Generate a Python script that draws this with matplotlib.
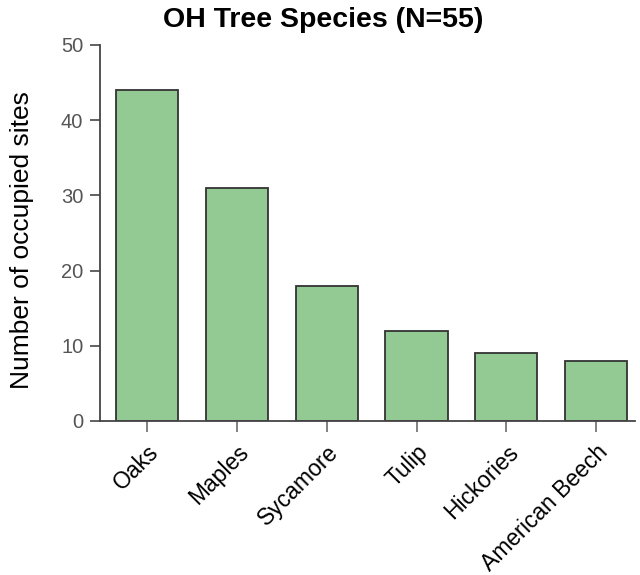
import matplotlib
matplotlib.use("Agg")
import matplotlib.pyplot as plt
import numpy as np

categories = ["Oaks", "Maples", "Sycamore", "Tulip", "Hickories", "American Beech"]
values = [44, 31, 18, 12, 9, 8]
yticks = [0, 10, 20, 30, 40, 50]

plt.rcParams['font.family'] = ['Liberation Sans', 'DejaVu Sans']

fig = plt.figure(figsize=(6.4, 5.75), dpi=100)
ax = fig.add_axes([100/640, 1-421/575, 535/640, (421-45)/575])

x = np.arange(len(categories))
ax.bar(x, values, width=0.69, color='#93c993', edgecolor='#333333', linewidth=1.3)

ax.set_xlim(-0.52, len(categories) - 1 + 0.43)
ax.set_ylim(0, 50)
ax.set_yticks(yticks)
ax.set_xticks(x)
ax.set_xticklabels(categories, rotation=45, ha='right', rotation_mode='anchor', fontsize=16.5)
ax.tick_params(axis='y', labelsize=14.5, labelcolor='#555555', color='#555555', length=7, width=1.3, pad=5)
ax.tick_params(axis='x', color='#777777', length=8, width=1.3, pad=6)

for s in ['top', 'right']:
    ax.spines[s].set_visible(False)
for s in ['left', 'bottom']:
    ax.spines[s].set_color('#444444')
    ax.spines[s].set_linewidth(1.3)
ax.spines['left'].set_bounds(0, 50)

fig.text(22/640, 1-240/575, 'Number of occupied sites', fontsize=19, rotation=90,
         ha='center', va='center')
fig.text(323/640, 1-7/575, 'OH Tree Species (N=55)', fontsize=20.5, fontweight='bold',
         ha='center', va='top')

fig.savefig('out.png', dpi=100)
